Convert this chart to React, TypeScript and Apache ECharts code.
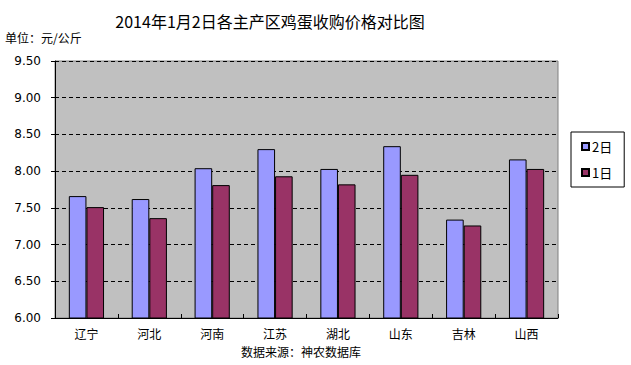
import React, { useEffect, useRef } from "react";
import * as echarts from "echarts";

const categories = ["辽宁", "河北", "河南", "江苏", "湖北", "山东", "吉林", "山西"];
const day2 = [7.66, 7.62, 8.04, 8.3, 8.03, 8.34, 7.34, 8.16];
const day1 = [7.51, 7.36, 7.81, 7.93, 7.82, 7.95, 7.26, 8.03];
const seriesNames = ["2日", "1日"];

export default function App() {
  const ref = useRef<HTMLDivElement>(null);
  useEffect(() => {
    if (!ref.current) return;
    const chart = echarts.init(ref.current, undefined, { renderer: "svg" });
    const cjk = "'Noto Sans CJK SC', sans-serif";
    chart.setOption({
      animation: false,
      backgroundColor: "#ffffff",
      title: {
        text: "2014年1月2日各主产区鸡蛋收购价格对比图",
        left: 265,
        textAlign: "center",
        top: 8,
        textStyle: { fontFamily: cjk, fontSize: 16, fontWeight: "normal", color: "#000" },
      },
      graphic: [
        {
          type: "text",
          left: 5,
          top: 31,
          style: { text: "单位：元/公斤", font: "12px 'Noto Sans CJK SC'", fill: "#000" },
        },
        {
          type: "text",
          left: 241,
          top: 345,
          style: { text: "数据来源：神农数据库", font: "12px 'Noto Sans CJK SC'", fill: "#000" },
        },
      ],
      legend: {
        orient: "vertical",
        left: 571,
        top: 132,
        width: 51,
        padding: [8, 12, 8, 10],
        itemGap: 13,
        itemWidth: 7,
        itemHeight: 7,
        icon: "rect",
        borderColor: "#000",
        borderWidth: 1,
        backgroundColor: "#fff",
        textStyle: { fontFamily: cjk, fontSize: 13, color: "#000", padding: [0, 0, 0, -2] },
        data: seriesNames,
      },
      grid: {
        left: 55,
        top: 61,
        right: 73,
        bottom: 47,
        show: true,
        backgroundColor: "#C0C0C0",
        borderColor: "#808080",
        borderWidth: 1,
      },
      xAxis: {
        type: "category",
        data: categories,
        axisLine: { lineStyle: { color: "#000", width: 1 } },
        axisTick: { show: true, inside: true, length: 4, lineStyle: { color: "#000" } },
        axisLabel: { fontFamily: cjk, fontSize: 12, color: "#000", margin: 9 },
      },
      yAxis: {
        type: "value",
        min: 6,
        max: 9.5,
        interval: 0.5,
        axisLine: { show: true, lineStyle: { color: "#000", width: 1 } },
        axisTick: { show: true, length: 4, lineStyle: { color: "#000" } },
        axisLabel: {
          formatter: (v: number) => v.toFixed(2),
          fontFamily: "'DejaVu Sans', sans-serif",
          fontSize: 12,
          color: "#000",
          margin: 14,
        },
        splitLine: { show: true, lineStyle: { color: "#000", type: [4, 3], width: 1 } },
      },
      series: [
        {
          name: seriesNames[0],
          type: "bar",
          data: day2,
          barGap: "0%",
          barCategoryGap: "44%",
          itemStyle: { color: "#9999FF", borderColor: "#000", borderWidth: 1 },
        },
        {
          name: seriesNames[1],
          type: "bar",
          data: day1,
          itemStyle: { color: "#993366", borderColor: "#000", borderWidth: 1 },
        },
      ],
    });
    return () => chart.dispose();
  }, []);
  return (
    <div
      ref={ref}
      style={{ position: "fixed", left: 0, top: 0, width: 631, height: 365 }}
    />
  );
}
